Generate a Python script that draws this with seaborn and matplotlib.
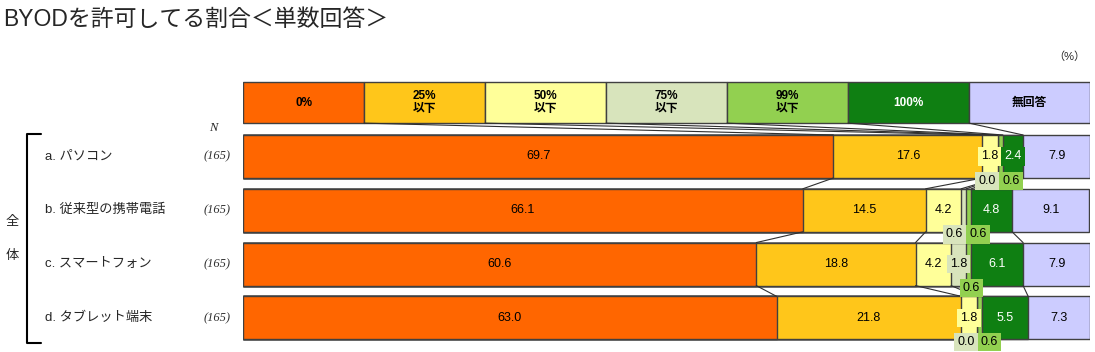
import numpy as np
import pandas as pd
import matplotlib.pyplot as plt
import matplotlib.transforms as mtransforms
from matplotlib.lines import Line2D
import seaborn as sns

# データ
categories = ["a. パソコン", "b. 従来型の携帯電話", "c. スマートフォン", "d. タブレット端末"]
n_values = [165, 165, 165, 165]
segments = ["0%", "25%\n以下", "50%\n以下", "75%\n以下", "99%\n以下", "100%", "無回答"]
pct_0 = [69.7, 66.1, 60.6, 63.0]
pct_25 = [17.6, 14.5, 18.8, 21.8]
pct_50 = [1.8, 4.2, 4.2, 1.8]
pct_75 = [0.0, 0.6, 1.8, 0.0]
pct_99 = [0.6, 0.6, 0.6, 0.6]
pct_100 = [2.4, 4.8, 6.1, 5.5]
pct_na = [7.9, 9.1, 7.9, 7.3]
colors = ["#FF6600", "#FFC61A", "#FFFF99", "#D8E4BC", "#92D050", "#0F7F12", "#CCCCFF"]

sns.set_theme(style="white")
plt.rcParams['font.family'] = ['Liberation Sans', 'Noto Sans CJK JP', 'DejaVu Sans']

vals = np.array([pct_0, pct_25, pct_50, pct_75, pct_99, pct_100, pct_na]).T  # rows = categories
cum = np.cumsum(vals, axis=1)
left = cum - vals
edge = "#404040"
bar_h = 0.8
head_h = 0.76

W, H = 1095, 352
fig = plt.figure(figsize=(W / 100, H / 100), dpi=100)
ax = fig.add_axes([243 / W, 7 / H, (1090 - 243) / W, 267 / H])

# 積み上げ棒 (累積値を後ろから重ねて描く)
for i in reversed(range(len(segments))):
    df = pd.DataFrame({"item": categories, "value": cum[:, i]})
    sns.barplot(data=df, x="value", y="item", color=colors[i], saturation=1,
                orient="h", width=bar_h, edgecolor=edge, linewidth=1,
                errorbar=None, ax=ax)

# 凡例の見出し行
k = len(segments)
head_left = np.arange(k) * 100 / k
ax.barh([-1.0] * k, [100 / k] * k, left=head_left, height=head_h,
        color=colors, edgecolor=edge, linewidth=1)
for j, s in enumerate(segments):
    ax.text(head_left[j] + 50 / k, -1.0, s, ha="center", va="center",
            fontsize=8.5, fontweight="bold", linespacing=1.1,
            color="white" if j == 5 else "black")

# 系列線
lc = "#303030"
for j in range(1, k):
    ax.plot([head_left[j], cum[0, j - 1]], [-1.0 + head_h / 2, -bar_h / 2],
            color=lc, lw=0.8)
for r in range(len(categories) - 1):
    for j in range(k - 1):
        ax.plot([cum[r, j], cum[r + 1, j]], [r + bar_h / 2, r + 1 - bar_h / 2],
                color=lc, lw=0.8)

# 数値ラベル
for r in range(len(categories)):
    below = [j for j in range(k) if vals[r, j] < 1]
    for j in range(k):
        v = vals[r, j]
        x = left[r, j] + v / 2
        tc = "white" if j == 5 else "black"
        if v >= 3:
            ax.text(x, r, f"{v:.1f}", ha="center", va="center", fontsize=9, color=tc)
        elif v >= 1:
            ax.text(x, r, f"{v:.1f}", ha="center", va="center", fontsize=9, color=tc,
                    bbox=dict(boxstyle="square,pad=0.25", fc=colors[j], ec="none"))
        else:
            if len(below) == 2:
                xc = np.mean([left[r, b] + vals[r, b] / 2 for b in below])
                dx = -8.5 if j == below[0] else 8.5
            else:
                xc, dx = x, 2
            ax.annotate(f"{v:.1f}", (xc, r + 0.45), xytext=(dx, 0),
                        textcoords="offset points", ha="center", va="center",
                        fontsize=9, color=tc,
                        bbox=dict(boxstyle="square,pad=0.25", fc=colors[j], ec="none"))

ax.set_xlim(0, 100)
ax.set_ylim(3.504, -1.459)
ax.axis("off")

# 左側の項目名
tr = mtransforms.blended_transform_factory(fig.transFigure, ax.transData)
for r, (c, n) in enumerate(zip(categories, n_values)):
    ax.text(45 / W, r, c, transform=tr, ha="left", va="center", fontsize=9.5)
    ax.text(231 / W, r, f"({n})", transform=tr, ha="right", va="center",
            fontsize=9, style="italic", family=["Liberation Serif", "DejaVu Serif"],
            color="#333333")
ax.text(213 / W, -0.53, "N", transform=tr, ha="center", va="center",
        fontsize=9, style="italic", family=["Liberation Serif", "DejaVu Serif"])

# 全体の括弧
fig.add_artist(Line2D([41 / W, 27 / W, 27 / W, 41 / W],
                      [1 - 134 / H, 1 - 134 / H, 1 - 343 / H, 1 - 343 / H],
                      color="black", lw=1.5, transform=fig.transFigure))
fig.text(12 / W, 1 - 222 / H, "全", ha="center", va="center", fontsize=9.5)
fig.text(12 / W, 1 - 256 / H, "体", ha="center", va="center", fontsize=9.5)

fig.text(3 / W, 1 - 19 / H, "BYODを許可してる割合＜単数回答＞", ha="left", va="center",
         fontsize=16.5)
fig.text(1085 / W, 1 - 57 / H, "（%）", ha="right", va="center", fontsize=8)

fig.savefig("out.png", dpi=100, facecolor="white")
